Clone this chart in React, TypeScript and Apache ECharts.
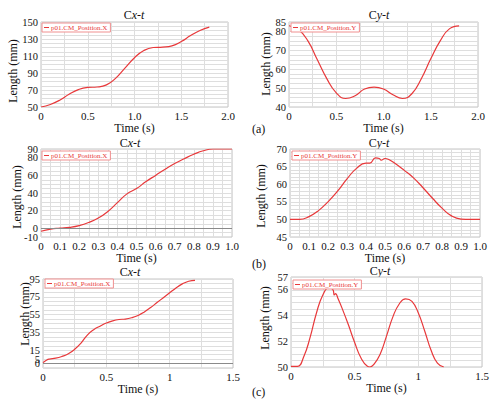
import React, { useEffect, useRef } from "react";
import * as echarts from "echarts";

// ---------- data ----------
const TIME_A = [0, 0.1, 0.2, 0.3, 0.4, 0.5, 0.6, 0.7, 0.8, 0.9, 1.0, 1.1, 1.2, 1.3, 1.4, 1.5, 1.6, 1.7, 1.8];
const CX_A = [50, 53, 58, 65, 70.5, 73, 73.5, 76, 84, 96, 108, 116.5, 120, 120.5, 122, 127, 134, 140, 144];
const CY_A = [83, 81, 75, 65, 55, 47.5, 44.5, 46, 49.5, 50.5, 49.5, 46.5, 44.5, 47, 55, 65.5, 75, 81.5, 83];

const TIME_B = [0, 0.05, 0.1, 0.15, 0.2, 0.25, 0.3, 0.35, 0.4, 0.45, 0.5, 0.55, 0.6, 0.65, 0.7, 0.75, 0.8, 0.85, 0.9, 0.95, 1.0];
const CX_B = [-3.5, -1, 0, 1, 3, 6.5, 11.5, 19, 29, 39, 45, 53, 60, 67, 73.5, 79, 84, 88, 90, 90, 90];
const TIME_B2 = [0, 0.05, 0.1, 0.15, 0.2, 0.25, 0.3, 0.35, 0.4, 0.42, 0.45, 0.47, 0.48, 0.5, 0.52, 0.55, 0.6, 0.65, 0.7, 0.75, 0.8, 0.85, 0.9, 0.95, 1.0];
const CY_B = [50, 50, 50.8, 52.5, 55, 58, 61.5, 64.5, 66, 66, 67.5, 67.3, 66.8, 67.3, 67, 66, 64, 61.8, 59, 56, 53.2, 51, 50.1, 50, 50];

const TIME_C = [0, 0.03, 0.05, 0.1, 0.15, 0.2, 0.25, 0.3, 0.35, 0.4, 0.45, 0.5, 0.55, 0.6, 0.65, 0.7, 0.75, 0.8, 0.85, 0.9, 0.95, 1.0, 1.05, 1.1, 1.15, 1.2];
const CX_C = [1, 4, 5, 6, 8, 11, 16, 23, 32, 38, 42, 45.5, 48, 49.5, 50, 51.5, 54, 58, 63, 68.5, 74, 79.5, 85, 89.5, 92.5, 93.5];
const TIME_C2 = [0, 0.05, 0.1, 0.15, 0.2, 0.25, 0.3, 0.33, 0.34, 0.35, 0.37, 0.4, 0.45, 0.5, 0.55, 0.6, 0.62, 0.65, 0.7, 0.75, 0.8, 0.85, 0.9, 0.95, 1.0, 1.05, 1.1, 1.15, 1.2];
const CY_C = [50.05, 50.05, 50.8, 52.3, 54.2, 55.6, 56.2, 56.0, 55.6, 55.7, 55.3, 54.6, 53.3, 51.9, 50.7, 50.05, 50.0, 50.2, 51.0, 52.4, 53.9, 54.9, 55.3, 55.1, 54.2, 52.8, 51.3, 50.3, 50.0];

// tick labels
const X_TICKS_A = [0, 0.5, 1, 1.5, 2];
const X_LABELS_A = ["0", "0.5", "1.0", "1.5", "2.0"];
const X_TICKS_B = [0, 0.1, 0.2, 0.3, 0.4, 0.5, 0.6, 0.7, 0.8, 0.9, 1.0];
const X_LABELS_B = ["0", "0.1", "0.2", "0.3", "0.4", "0.5", "0.6", "0.7", "0.8", "0.9", "1.0"];
const X_TICKS_C = [0, 0.5, 1, 1.5];
const X_LABELS_C = ["0", "0.5", "1", "1.5"];

const Y_TICKS_1 = [50, 70, 90, 110, 130, 150];
const Y_TICKS_2 = [40, 50, 60, 70, 80, 85];
const Y_TICKS_3 = [-10, 0, 20, 40, 60, 80, 90];
const Y_TICKS_4 = [45, 50, 55, 60, 65, 70];
const Y_TICKS_5 = [-5, 0, 5, 15, 35, 55, 75, 95];
const Y_TICKS_6 = [50, 52, 54, 56, 57];

const NAME_X = "p01.CM_Position.X";
const NAME_Y = "p01.CM_Position.Y";
const TITLE_X = "Cx-t";
const TITLE_Y = "Cy-t";
const X_NAME = "Time (s)";
const Y_NAME = "Length (mm)";
const PANEL_TAGS = ["(a)", "(b)", "(c)"];

// ---------- styling / layout ----------
const FONT = "Liberation Serif";
const RED = "#e8383a";

type Panel = {
  grid: { left: number; top: number; width: number; height: number };
  times: number[];
  values: number[];
  name: string;
  title: string;
  xMax: number;
  xStep: number;
  xTicks: number[];
  xLabels: string[];
  yMin: number;
  yMax: number;
  yStep: number;
  yTicks: number[];
  zeroLine: boolean;
  titlePos: [number, number];
  yNamePos: [number, number];
  legendPos: [number, number];
};

const PANELS: Panel[] = [
  {
    grid: { left: 41, top: 22, width: 187, height: 85 },
    times: TIME_A, values: CX_A, name: NAME_X, title: TITLE_X,
    xMax: 2, xStep: 0.25, xTicks: X_TICKS_A, xLabels: X_LABELS_A,
    yMin: 50, yMax: 150, yStep: 5, yTicks: Y_TICKS_1, zeroLine: false,
    titlePos: [134, 15], yNamePos: [13, 71], legendPos: [42, 23],
  },
  {
    grid: { left: 289, top: 22, width: 189, height: 85 },
    times: TIME_A, values: CY_A, name: NAME_Y, title: TITLE_Y,
    xMax: 2, xStep: 0.25, xTicks: X_TICKS_A, xLabels: X_LABELS_A,
    yMin: 40, yMax: 85, yStep: 2.5, yTicks: Y_TICKS_2, zeroLine: false,
    titlePos: [379, 15], yNamePos: [266, 64], legendPos: [291, 23],
  },
  {
    grid: { left: 41, top: 149, width: 191, height: 88 },
    times: TIME_B, values: CX_B, name: NAME_X, title: TITLE_X,
    xMax: 1, xStep: 0.05, xTicks: X_TICKS_B, xLabels: X_LABELS_B,
    yMin: -10, yMax: 90, yStep: 5, yTicks: Y_TICKS_3, zeroLine: true,
    titlePos: [130, 143], yNamePos: [17, 197], legendPos: [42, 151],
  },
  {
    grid: { left: 290, top: 149, width: 190, height: 88 },
    times: TIME_B2, values: CY_B, name: NAME_Y, title: TITLE_Y,
    xMax: 1, xStep: 0.05, xTicks: X_TICKS_B, xLabels: X_LABELS_B,
    yMin: 45, yMax: 70, yStep: 1, yTicks: Y_TICKS_4, zeroLine: false,
    titlePos: [379, 143], yNamePos: [261, 196], legendPos: [292, 151],
  },
  {
    grid: { left: 43, top: 279, width: 190, height: 89 },
    times: TIME_C, values: CX_C, name: NAME_X, title: TITLE_X,
    xMax: 1.5, xStep: 0.25, xTicks: X_TICKS_C, xLabels: X_LABELS_C,
    yMin: -5, yMax: 95, yStep: 5, yTicks: Y_TICKS_5, zeroLine: true,
    titlePos: [130, 272], yNamePos: [25, 314], legendPos: [45, 279],
  },
  {
    grid: { left: 291, top: 277, width: 191, height: 90 },
    times: TIME_C2, values: CY_C, name: NAME_Y, title: TITLE_Y,
    xMax: 1.5, xStep: 0.25, xTicks: X_TICKS_C, xLabels: X_LABELS_C,
    yMin: 50, yMax: 57, yStep: 0.5, yTicks: Y_TICKS_6, zeroLine: false,
    titlePos: [380, 271], yNamePos: [265, 318], legendPos: [293, 280],
  },
];

const TAG_POS: [number, number][] = [
  [252, 129],
  [252, 264],
  [252, 392],
];

function pick(ticks: number[], labels: string[], v: number): string {
  const i = ticks.findIndex((t) => Math.abs(t - v) < 1e-6);
  return i >= 0 ? labels[i] : "";
}

function buildOption() {
  const grid: any[] = [];
  const xAxis: any[] = [];
  const yAxis: any[] = [];
  const series: any[] = [];
  const legend: any[] = [];
  const graphic: any[] = [];

  PANELS.forEach((p, i) => {
    grid.push({
      ...p.grid,
      show: true,
      borderColor: "#c4c4c4",
      borderWidth: 1,
      backgroundColor: "#ffffff",
      containLabel: false,
      outerBoundsMode: "none",
    });
    xAxis.push({
      type: "value",
      gridIndex: i,
      min: 0,
      max: p.xMax,
      interval: p.xStep,
      axisLine: { show: false },
      axisTick: { show: false },
      splitLine: { show: true, lineStyle: { color: "#dedede", width: 1 } },
      axisLabel: {
        margin: 3,
        fontSize: 11,
        fontFamily: FONT,
        color: "#111",
        formatter: (v: number) => pick(p.xTicks, p.xLabels, v),
      },
      name: X_NAME,
      nameLocation: "middle",
      nameGap: 11,
      nameTextStyle: { fontSize: 12, fontFamily: FONT, color: "#111", verticalAlign: "top" },
    });
    yAxis.push({
      type: "value",
      gridIndex: i,
      min: p.yMin,
      max: p.yMax,
      interval: p.yStep,
      axisLine: { show: false },
      axisTick: { show: false },
      splitLine: { show: true, lineStyle: { color: "#dedede", width: 1 } },
      axisLabel: {
        margin: 3,
        fontSize: 10.5,
        fontFamily: FONT,
        color: "#111",
        formatter: (v: number) => pick(p.yTicks, p.yTicks.map((t) => String(t)), v),
      },
    });
    series.push({
      type: "line",
      name: p.name,
      xAxisIndex: i,
      yAxisIndex: i,
      data: p.times.map((t, k) => [t, p.values[k]]),
      showSymbol: false,
      symbol: "none",
      smooth: 0.5,
      color: RED,
      lineStyle: { color: RED, width: 1.2 },
      silent: true,
      markLine: p.zeroLine
        ? {
            silent: true,
            symbol: ["none", "none"],
            label: { show: false },
            lineStyle: { color: "#8a8a8a", type: "solid", width: 1 },
            data: [{ yAxis: 0 }],
          }
        : undefined,
    });
    legend.push({
      data: [p.name],
      left: p.legendPos[0],
      top: p.legendPos[1],
      orient: "horizontal",
      padding: [1, 3, 1, 2],
      itemGap: 0,
      itemWidth: 5,
      itemHeight: 1,
      icon: "rect",
      borderColor: "#f09090",
      borderWidth: 1,
      borderRadius: 0,
      backgroundColor: "#ffffff",
      selectedMode: false,
      textStyle: { color: RED, fontSize: 7, fontFamily: FONT, padding: [0, 0, 0, -3] },
    });
    const [first, ...rest] = p.title.split("");
    graphic.push({
      type: "text",
      x: p.titlePos[0],
      y: p.titlePos[1],
      silent: true,
      style: {
        text: `{n|${first}}{i|${rest.join("")}}`,
        align: "center",
        verticalAlign: "middle",
        rich: {
          n: { fontSize: 12, fontFamily: FONT, fill: "#111" },
          i: { fontSize: 12, fontFamily: FONT, fontStyle: "italic", fill: "#111" },
        },
      },
    });
    graphic.push({
      type: "text",
      x: p.yNamePos[0],
      y: p.yNamePos[1],
      rotation: Math.PI / 2,
      silent: true,
      style: {
        text: Y_NAME,
        align: "center",
        verticalAlign: "middle",
        fontSize: 12,
        fontFamily: FONT,
        fill: "#111",
      },
    });
  });

  PANEL_TAGS.forEach((tag, i) => {
    graphic.push({
      type: "text",
      x: TAG_POS[i][0],
      y: TAG_POS[i][1],
      silent: true,
      style: {
        text: tag,
        align: "left",
        verticalAlign: "middle",
        fontSize: 12,
        fontFamily: FONT,
        fill: "#111",
      },
    });
  });

  return {
    animation: false,
    backgroundColor: "#ffffff",
    textStyle: { fontFamily: FONT },
    grid,
    xAxis,
    yAxis,
    series,
    legend,
    graphic,
  };
}

export default function App() {
  const ref = useRef<HTMLDivElement>(null);
  useEffect(() => {
    document.body.style.margin = "0";
    if (!ref.current) return;
    const chart = echarts.init(ref.current, undefined, { renderer: "svg" });
    chart.setOption(buildOption() as any);
    return () => chart.dispose();
  }, []);
  return <div ref={ref} style={{ width: 500, height: 410 }} />;
}
